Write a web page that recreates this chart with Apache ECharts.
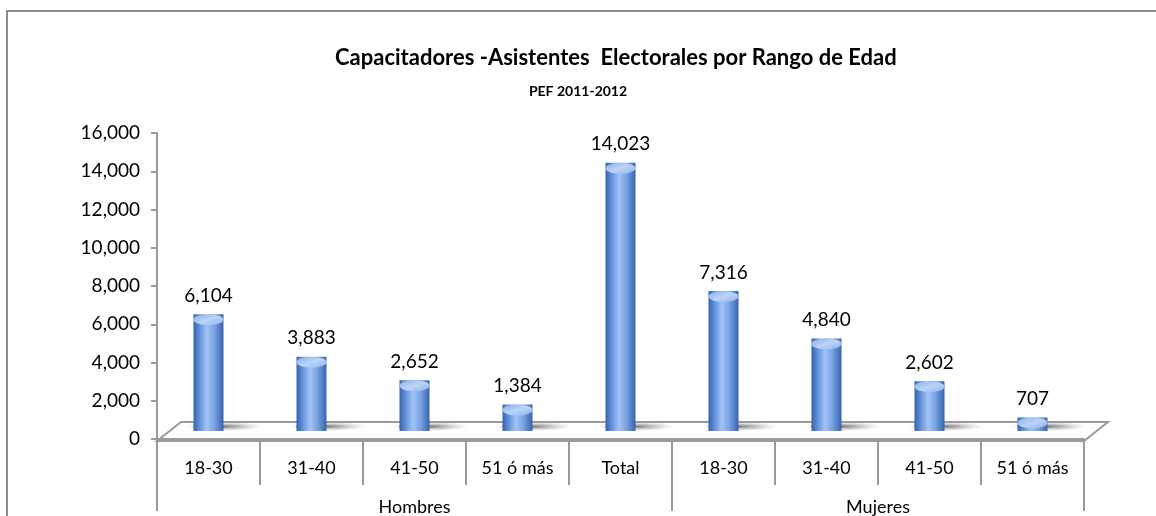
<!DOCTYPE html>
<html>
<head>
<meta charset="utf-8">
<script src="https://cdn.jsdelivr.net/npm/echarts@6/dist/echarts.min.js"></script>
<style>
  html, body { margin: 0; padding: 0; background: #fff; }
  #main { width: 1156px; height: 516px; }
</style>
</head>
<body>
<div id="main"></div>
<script>
// data
const categories = ['18-30', '31-40', '41-50', '51 ó más', 'Total', '18-30', '31-40', '41-50', '51 ó más'];
const values = [6104, 3883, 2652, 1384, 14023, 7316, 4840, 2602, 707];
const groups = ['Hombres', 'Mujeres'];
const groupSizes = [5, 4]; // how many categories each group label covers
const yTicks = [0, 2000, 4000, 6000, 8000, 10000, 12000, 14000, 16000];

const W = 1156, H = 516;
const grid = { left: 157, right: 72, top: 133, bottom: 75 };
const floorDx = 24, floorDy = 19;   // depth of the 3d floor
const floorLift = 420;              // bars stand on the back of the floor

const fmt = v => Number(v).toLocaleString('en-US');
const FONT = 'Lato';
const GRAY = '#9a9a9a';

// secondary axis: half-category slots so group labels can sit between categories
const slots = [];
const boundaries = [0];
let acc = 0;
for (let i = 0; i < groupSizes.length; i++) acc += groupSizes[i] * 2, boundaries.push(acc);
for (let i = 0; i <= categories.length * 2; i++) slots.push('');
for (let g = 0; g < groups.length; g++) {
  slots[(boundaries[g] + boundaries[g + 1]) / 2] = groups[g];
}

const myChart = echarts.init(document.getElementById('main'));

const frontY = H - grid.bottom;
const leftX = grid.left, rightX = W - grid.right;

const barColor = new echarts.graphic.LinearGradient(0, 0, 1, 0, [
  { offset: 0, color: '#3462ad' },
  { offset: 0.25, color: '#6e9be2' },
  { offset: 0.45, color: '#a3c3f5' },
  { offset: 0.7, color: '#77a1e4' },
  { offset: 1, color: '#3764ab' }
]);
const capColor = new echarts.graphic.LinearGradient(0, 0, 1, 1, [
  { offset: 0, color: '#88aee8' },
  { offset: 0.5, color: '#bcd4f7' },
  { offset: 1, color: '#8fb3ec' }
]);
const shadowColor = new echarts.graphic.RadialGradient(0.5, 0.5, 0.5, [
  { offset: 0, color: 'rgba(90,90,90,0.8)' },
  { offset: 1, color: 'rgba(150,150,150,0)' }
]);

const option = {
  animation: false,
  title: [
    {
      text: 'Capacitadores -Asistentes  Electorales por Rango de Edad',
      left: 330, top: 42,
      textStyle: { fontFamily: FONT, fontSize: 22, fontWeight: 'bold', color: '#000' }
    },
    {
      text: 'PEF 2011-2012',
      left: 'center', top: 79,
      textStyle: { fontFamily: FONT, fontSize: 14, fontWeight: 'bold', color: '#000' }
    }
  ],
  grid: grid,
  graphic: [
    {
      type: 'rect', z: 0, silent: true,
      shape: { x: 7, y: 11, width: W + 20, height: H + 20 },
      style: { fill: null, stroke: '#8c8c8c', lineWidth: 2 }
    },
    {
      type: 'polygon', z: 1, silent: true,
      shape: { points: [[leftX, frontY], [leftX + floorDx, frontY - floorDy], [rightX + floorDx, frontY - floorDy], [rightX, frontY]] },
      style: { fill: '#fff', stroke: GRAY, lineWidth: 2 }
    }
  ],
  xAxis: [
    {
      type: 'category',
      position: 'bottom',
      data: categories,
      z: 3,
      axisLine: { show: true, lineStyle: { color: GRAY, width: 2 } },
      axisTick: { show: true, interval: 0, length: 46, lineStyle: { color: GRAY, width: 2 } },
      axisLabel: { interval: 0, margin: 20, fontFamily: FONT, fontSize: 18, color: '#000' }
    },
    {
      type: 'category',
      position: 'bottom',
      data: slots,
      boundaryGap: false,
      axisLine: { show: false },
      axisTick: {
        show: true,
        interval: i => boundaries.indexOf(i) >= 0,
        length: 80,
        lineStyle: { color: GRAY, width: 2 }
      },
      axisLabel: {
        interval: i => slots[i] !== '',
        margin: 59, fontFamily: FONT, fontSize: 18, color: '#000'
      }
    }
  ],
  yAxis: [
    {
      type: 'value',
      min: yTicks[0], max: yTicks[yTicks.length - 1], interval: yTicks[1] - yTicks[0],
      splitLine: { show: false },
      axisLine: { show: true, lineStyle: { color: GRAY, width: 2 } },
      axisTick: { show: true, length: 6, lineStyle: { color: GRAY, width: 2 } },
      axisLabel: { formatter: fmt, margin: 17, fontFamily: FONT, fontSize: 19, color: '#000' }
    },
    {
      type: 'value', show: false,
      min: yTicks[0] - floorLift, max: yTicks[yTicks.length - 1] - floorLift
    }
  ],
  series: [
    {
      // floor shadow
      type: 'pictorialBar', yAxisIndex: 1, z: 2,
      data: values,
      symbol: 'circle', symbolPosition: 'start',
      symbolSize: [76, 9], symbolOffset: [16, 0],
      itemStyle: { color: shadowColor }
    },
    {
      type: 'bar', yAxisIndex: 1, z: 3,
      data: values,
      barWidth: 30,
      itemStyle: { color: barColor }
    },
    {
      // rounded bottom of the cylinder
      type: 'pictorialBar', yAxisIndex: 1, z: 3,
      data: values,
      symbol: 'circle', symbolPosition: 'start',
      symbolSize: [30, 9], symbolOffset: [0, 0],
      itemStyle: { color: barColor }
    },
    {
      // top cap
      type: 'pictorialBar', yAxisIndex: 1, z: 4,
      data: values,
      symbol: 'circle', symbolPosition: 'end',
      symbolSize: [30, 11], symbolOffset: [0, 0],
      itemStyle: { color: capColor },
      label: {
        show: true, position: 'top', distance: 9,
        formatter: p => fmt(p.value),
        fontFamily: FONT, fontSize: 19, color: '#000'
      }
    }
  ]
};

myChart.setOption(option);
</script>
</body>
</html>
